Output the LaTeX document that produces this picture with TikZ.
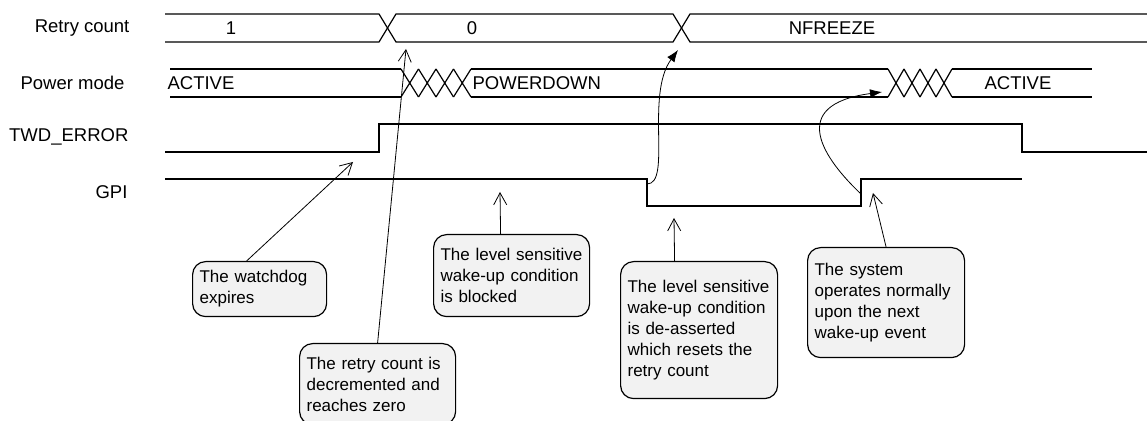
\documentclass[tikz,border=0pt]{standalone}
\usepackage{fontspec}
\setmainfont{Liberation Sans}
\usetikzlibrary{arrows,arrows.meta}
\usetikzlibrary{calc}
\usetikzlibrary{positioning}

\begin{document}
\begin{tikzpicture}[x=0.5pt,y=-0.5pt,semithick,font=\fontsize{8.5}{10.5}\selectfont]
	\tikzstyle{signame}=[anchor=east, inner sep=0pt, font=\fontsize{9.25}{11}\selectfont]
	\tikzstyle{val}=[inner sep=0pt, font=\fontsize{9.25}{11}\selectfont]
	\tikzstyle{note}=[draw, rounded corners=6.5pt, fill=gray!10, anchor=north west, inner xsep=3.5pt, align=left]
	\tikzstyle{pointer}=[-{Straight Barb[length=6pt,width=6.5pt]}, thin]
	\tikzstyle{curvearrow}=[-{Latex[length=6pt,width=4.5pt]}, thin]
	\clip (0,0) rectangle (1147,421);

	% signal names
	\node[signame] (rcname) at (130,28) {Retry count};
	\node[signame] (pmname) at (125,83) {Power mode};
	\node[signame] (twdname) at (129,137) {TWD\_ERROR};
	\node[signame] (gpiname) at (128,192) {GPI};

	% retry count bus
	\draw (165,14) -- (379,14) -- (396,42) -- (673,42) -- (690,14) -- (1147,14);
	\draw (165,42) -- (379,42) -- (396,14) -- (673,14) -- (690,42) -- (1147,42);
	\node[val] (rc1) at (231,28) {1};
	\node[val] (rc0) at (472,28) {0};
	\node[val] (rcn) at (832,28) {NFREEZE};

	% power mode bus
	\draw (170,69) -- (401,69) (471,69) -- (888,69) (952,69) -- (1092,69);
	\draw (170,97) -- (401,97) (471,97) -- (888,97) (952,97) -- (1092,97);
	\foreach \xa in {401,418.5,436,453.5}{
		\draw (\xa,69) -- ++(17.5,28) (\xa,97) -- ++(17.5,-28);
	}
	\foreach \xa in {888,904,920,936}{
		\draw (\xa,69) -- ++(16,28) (\xa,97) -- ++(16,-28);
	}
	\node[val, anchor=west] (pma) at (167,83) {ACTIVE};
	\node[val, anchor=west] (pmd) at (472,83) {POWERDOWN};
	\node[val] (pmb) at (1018,83) {ACTIVE};

	% TWD_ERROR and GPI
	\draw (165,152) -- (379,152) -- (379,124) -- (1022,124) -- (1022,152) -- (1147,152);
	\draw (165,179) -- (647,179) -- (647,206) -- (861,206) -- (861,179) -- (1022,179);

	\coordinate (wdTip) at (353,162);
	\coordinate (rcTip) at (406,49);
	\coordinate (blTip) at (500,192);
	\coordinate (daTip) at (674,218);
	\coordinate (syTip) at (873,193);
	\coordinate (gpiFall) at (647,184);
	\coordinate (gpiRise) at (861,194);
	\coordinate (nfTip) at (678,50);
	\coordinate (acTip) at (882,92);

	% notes
	\node[note, text width=60pt, minimum height=27.5pt] (wdog) at (192,261) {The watchdog\\expires};
	\node[note, text width=71pt, minimum height=40.5pt] (retry) at (299,343) {The retry count is\\decremented and\\reaches zero};
	\node[note, text width=71pt, minimum height=41pt] (blocked) at (433,234) {The level sensitive\\wake-up condition\\is blocked};
	\node[note, text width=71.5pt, minimum height=68.5pt] (deassert) at (620,261) {The level sensitive\\wake-up condition\\is de-asserted\\which resets the\\retry count};
	\node[note, text width=71.5pt, minimum height=55pt] (system) at (807,247) {The system\\operates normally\\upon the next\\wake-up event};

	\draw[pointer] ([xshift=-6.5pt]wdog.north) -- (wdTip);
	\draw[pointer] (retry.north) -- (rcTip);
	\draw[pointer] ([xshift=-5.5pt]blocked.north) -- (blTip);
	\draw[pointer] ([xshift=-12.25pt]deassert.north) -- (daTip);
	\draw[pointer] (system.north) -- (syTip);
	\draw[curvearrow] (gpiFall) .. controls (672,184) and (645,95) .. (nfTip);
	\draw[curvearrow] (gpiRise) .. controls (825,160) and (785,105) .. (acTip);
\end{tikzpicture}
\end{document}
